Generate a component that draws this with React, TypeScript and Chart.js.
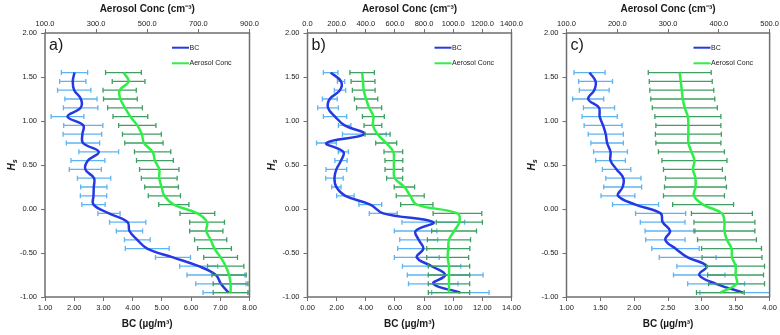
import React, { useEffect, useRef } from 'react';
import { Chart, registerables } from 'chart.js';

Chart.register(...registerables);

// Normalised height levels (Hs), listed from the top of the profile down
const hsLevels = [1.55, 1.45, 1.35, 1.25, 1.15, 1.05, 0.95, 0.85, 0.75, 0.65, 0.55, 0.45, 0.35, 0.25, 0.15, 0.05, -0.05, -0.15, -0.25, -0.35, -0.45, -0.55, -0.65, -0.75, -0.85, -0.95];

// Panel a)
const bcA = [2.01, 1.95, 2.0, 2.23, 2.22, 1.77, 2.31, 2.28, 2.3, 2.84, 2.47, 2.38, 2.68, 2.67, 2.66, 2.66, 3.19, 3.83, 3.89, 4.16, 4.5, 5.38, 6.26, 6.85, 7.02, 7.28];
const bcErrA = [0.45, 0.45, 0.57, 0.55, 0.59, 0.56, 0.67, 0.66, 0.57, 0.68, 0.58, 0.55, 0.57, 0.45, 0.45, 0.4, 0.38, 0.62, 0.45, 0.44, 0.75, 0.6, 0.65, 0.99, 0.86, 0.87];
const concA = [407, 427, 392, 395, 413, 434, 461, 479, 487, 521, 530, 547, 547, 556, 567, 604, 696, 734, 731, 748, 763, 787, 807, 820, 826, 826];
const concErrA = [70, 64, 65, 66, 68, 68, 73, 76, 75, 71, 72, 77, 70, 66, 63, 59, 68, 68, 65, 63, 66, 66, 71, 67, 68, 68];

// Panel b)
const bcB = [1.59, 2.3, 2.23, 1.53, 1.41, 1.89, 2.55, 3.9, 1.3, 2.46, 2.3, 1.98, 1.85, 1.98, 2.6, 4.31, 5.2, 8.63, 7.42, 7.63, 7.95, 7.5, 8.52, 9.45, 8.63, 10.49];
const bcErrB = [0.5, 0.25, 0.39, 0.51, 0.71, 0.8, 0.43, 1.5, 0.68, 0.35, 0.42, 0.71, 0.6, 0.32, 0.6, 0.78, 0.96, 2.15, 1.46, 1.3, 1.76, 1.54, 2.0, 2.6, 1.7, 1.97];
const concB = [375, 381, 386, 402, 423, 452, 449, 481, 540, 589, 593, 593, 598, 665, 705, 750, 1029, 1042, 1006, 971, 966, 962, 971, 971, 971, 971];
const concErrB = [84, 82, 78, 80, 86, 75, 61, 86, 72, 64, 61, 61, 55, 70, 96, 111, 167, 158, 154, 148, 148, 144, 142, 142, 142, 142];

// Panel c)
const bcC = [1.34, 1.43, 1.41, 1.32, 1.48, 1.49, 1.54, 1.58, 1.6, 1.65, 1.65, 1.74, 1.84, 1.83, 1.76, 2.02, 2.39, 2.42, 2.53, 2.46, 2.61, 2.79, 3.07, 2.96, 3.21, 3.61];
const bcErrC = [0.23, 0.25, 0.22, 0.23, 0.23, 0.26, 0.28, 0.26, 0.24, 0.25, 0.22, 0.21, 0.26, 0.28, 0.25, 0.34, 0.37, 0.33, 0.37, 0.29, 0.35, 0.42, 0.44, 0.38, 0.42, 0.64];
const concC = [323, 325, 327, 329, 333, 339, 340, 340, 340, 346, 352, 349, 354, 354, 351, 369, 406, 411, 411, 416, 425, 426, 433, 433, 435, 403];
const concErrC = [62, 62, 63, 63, 64, 65, 64, 65, 64, 65, 64, 58, 59, 61, 60, 60, 60, 60, 60, 58, 59, 59, 57, 55, 55, 47];

// Axis ranges: [min, max, step]
const hsRange = [-1, 2, 0.5];
const bcRangeA = [1, 8, 1];
const concRangeA = [100, 900, 200];
const bcRangeB = [0, 14, 2];
const concRangeB = [0, 1400, 200];
const bcRangeC = [1, 4, 0.5];
const concRangeC = [100, 500, 100];

const seriesNames = ['BC', 'Aerosol Conc'];
const bcTitle = 'BC (\u00b5g/m\u00b3)';
const concTitle = 'Aerosol Conc (cm\u207b\u00b3)';

const W = 780;
const H = 335;
const FONT = "'Liberation Sans', Arial, sans-serif";
const BLUE = '#2539e2';
const BLUE_ERR = '#5db4f2';
const GREEN = '#2fee47';
const GREEN_ERR = '#3f9f62';
const FRAME = '#6f6f6f';
const TEXT = '#1a1a1a';

interface PanelSpec {
  letter: string;
  bc: number[];
  bcErr: number[];
  conc: number[];
  concErr: number[];
  bcRange: number[];
  concRange: number[];
  base: number;
  left: number;
  right: number;
}

const panels: PanelSpec[] = [
  { letter: 'a)', bc: bcA, bcErr: bcErrA, conc: concA, concErr: concErrA, bcRange: bcRangeA, concRange: concRangeA, base: 0, left: 45, right: 249.5 },
  { letter: 'b)', bc: bcB, bcErr: bcErrB, conc: concB, concErr: concErrB, bcRange: bcRangeB, concRange: concRangeB, base: 260, left: 307.5, right: 511.5 },
  { letter: 'c)', bc: bcC, bcErr: bcErrC, conc: concC, concErr: concErrC, bcRange: bcRangeC, concRange: concRangeC, base: 520, left: 566.5, right: 771.5 },
];

function makeDecor(spec: PanelSpec) {
  return {
    id: 'panelDecor',
    beforeDatasetDraw(chart: any, args: any) {
      const ds: any = chart.data.datasets[args.index];
      const errs: number[] = ds.errors;
      if (!errs) return;
      const xs = chart.scales[args.meta.xAxisID];
      const ys = chart.scales.y;
      const a = chart.chartArea;
      const ctx = chart.ctx;
      ctx.save();
      ctx.beginPath();
      ctx.rect(a.left, a.top, a.right - a.left, a.bottom - a.top);
      ctx.clip();
      ctx.strokeStyle = ds.errorColor;
      ctx.lineWidth = 1.3;
      ds.data.forEach((pt: any, i: number) => {
        const y = ys.getPixelForValue(pt.y);
        const x1 = xs.getPixelForValue(pt.x - errs[i]);
        const x2 = xs.getPixelForValue(pt.x + errs[i]);
        ctx.beginPath();
        ctx.moveTo(x1, y);
        ctx.lineTo(x2, y);
        ctx.moveTo(x1, y - 2.5);
        ctx.lineTo(x1, y + 2.5);
        ctx.moveTo(x2, y - 2.5);
        ctx.lineTo(x2, y + 2.5);
        ctx.stroke();
      });
      ctx.restore();
    },
    afterDraw(chart: any) {
      const ctx = chart.ctx;
      const a = chart.chartArea;
      ctx.save();
      // plot frame
      ctx.strokeStyle = FRAME;
      ctx.lineWidth = 1.5;
      ctx.strokeRect(a.left, a.top, a.right - a.left, a.bottom - a.top);

      // panel letter
      ctx.fillStyle = TEXT;
      ctx.font = `16px ${FONT}`;
      ctx.textAlign = 'left';
      ctx.textBaseline = 'top';
      ctx.fillText(spec.letter, a.left + 4, a.top + 5);

      // legend
      const lx = a.left + 127;
      const rows = [
        { y: 47.7, color: BLUE, label: seriesNames[0] },
        { y: 63.3, color: GREEN, label: seriesNames[1] },
      ];
      ctx.font = `7px ${FONT}`;
      ctx.textBaseline = 'middle';
      rows.forEach((r) => {
        ctx.strokeStyle = r.color;
        ctx.lineWidth = 2;
        ctx.beginPath();
        ctx.moveTo(lx, r.y);
        ctx.lineTo(lx + 17, r.y);
        ctx.stroke();
        ctx.fillStyle = TEXT;
        ctx.fillText(r.label, lx + 17.5, r.y);
      });

      // y-axis title: H with subscript s, rotated
      const cy = (a.top + a.bottom) / 2;
      const tx = spec.base + 12;
      ctx.translate(tx, cy);
      ctx.rotate(-Math.PI / 2);
      ctx.font = `italic bold 10px ${FONT}`;
      const wH = ctx.measureText('H').width;
      ctx.font = `italic bold 7px ${FONT}`;
      const wS = ctx.measureText('s').width;
      const start = -(wH + wS) / 2;
      ctx.fillStyle = TEXT;
      ctx.textAlign = 'left';
      ctx.textBaseline = 'middle';
      ctx.font = `italic bold 10px ${FONT}`;
      ctx.fillText('H', start, 0);
      ctx.font = `italic bold 7px ${FONT}`;
      ctx.fillText('s', start + wH, 3);
      ctx.restore();
    },
  };
}

function tickFmt(digits: number) {
  return (v: any) => Number(v).toFixed(digits);
}

function Panel({ spec }: { spec: PanelSpec }) {
  const ref = useRef<HTMLCanvasElement | null>(null);

  useEffect(() => {
    if (!ref.current) return;
    const yWidth = spec.left - spec.base;
    const tickFont = { family: FONT, size: 7.5 };
    const titleFont = { family: FONT, size: 10, weight: 'bold' as const };
    const gridOpts = { drawOnChartArea: false, drawTicks: true, tickLength: 4, color: FRAME, tickColor: FRAME };

    const chart = new Chart(ref.current, {
      type: 'line',
      data: {
        datasets: [
          {
            label: seriesNames[0],
            data: hsLevels.map((h, i) => ({ x: spec.bc[i], y: h })),
            errors: spec.bcErr,
            errorColor: BLUE_ERR,
            xAxisID: 'x',
            yAxisID: 'y',
            borderColor: BLUE,
            borderWidth: 2.5,
            pointRadius: 0,
            tension: 0.4,
            fill: false,
            order: 1,
          } as any,
          {
            label: seriesNames[1],
            data: hsLevels.map((h, i) => ({ x: spec.conc[i], y: h })),
            errors: spec.concErr,
            errorColor: GREEN_ERR,
            xAxisID: 'x2',
            yAxisID: 'y',
            borderColor: GREEN,
            borderWidth: 2.5,
            pointRadius: 0,
            tension: 0.4,
            fill: false,
            order: 0,
          } as any,
        ],
      },
      options: {
        animation: false,
        responsive: false,
        devicePixelRatio: 1,
        events: [],
        layout: { padding: { left: spec.base, right: W - spec.right, top: 0, bottom: 0 } },
        plugins: {
          legend: { display: false },
          tooltip: { enabled: false },
          title: { display: false },
        },
        scales: {
          x: {
            type: 'linear',
            position: 'bottom',
            min: spec.bcRange[0],
            max: spec.bcRange[1],
            ticks: { stepSize: spec.bcRange[2], callback: tickFmt(2), font: tickFont, color: TEXT, padding: 2, autoSkip: false, maxRotation: 0 },
            grid: gridOpts,
            border: { display: false },
            title: { display: true, text: bcTitle, font: titleFont, color: TEXT, padding: { top: 0, bottom: 5 } },
            afterFit: (s: any) => { s.height = 38; },
          },
          x2: {
            type: 'linear',
            position: 'top',
            min: spec.concRange[0],
            max: spec.concRange[1],
            ticks: { stepSize: spec.concRange[2], callback: tickFmt(1), font: tickFont, color: TEXT, padding: 1, autoSkip: false, maxRotation: 0 },
            grid: gridOpts,
            border: { display: false },
            title: { display: true, text: concTitle, font: titleFont, color: TEXT, padding: { top: 3, bottom: 0 } },
            afterFit: (s: any) => { s.height = 33; },
          },
          y: {
            type: 'linear',
            position: 'left',
            min: hsRange[0],
            max: hsRange[1],
            ticks: { stepSize: hsRange[2], callback: tickFmt(2), font: tickFont, color: TEXT, padding: 4, autoSkip: false },
            grid: gridOpts,
            border: { display: false },
            afterFit: (s: any) => { s.width = yWidth; },
          },
        },
      } as any,
      plugins: [makeDecor(spec) as any],
    });
    return () => chart.destroy();
  }, [spec]);

  return (
    <canvas
      ref={ref}
      width={W}
      height={H}
      style={{ position: 'absolute', left: 0, top: 0, width: W, height: H }}
    />
  );
}

export default function App() {
  return (
    <div style={{ position: 'fixed', left: 0, top: 0, width: W, height: H, background: '#fff', overflow: 'hidden' }}>
      {panels.map((p) => (
        <Panel key={p.letter} spec={p} />
      ))}
    </div>
  );
}
